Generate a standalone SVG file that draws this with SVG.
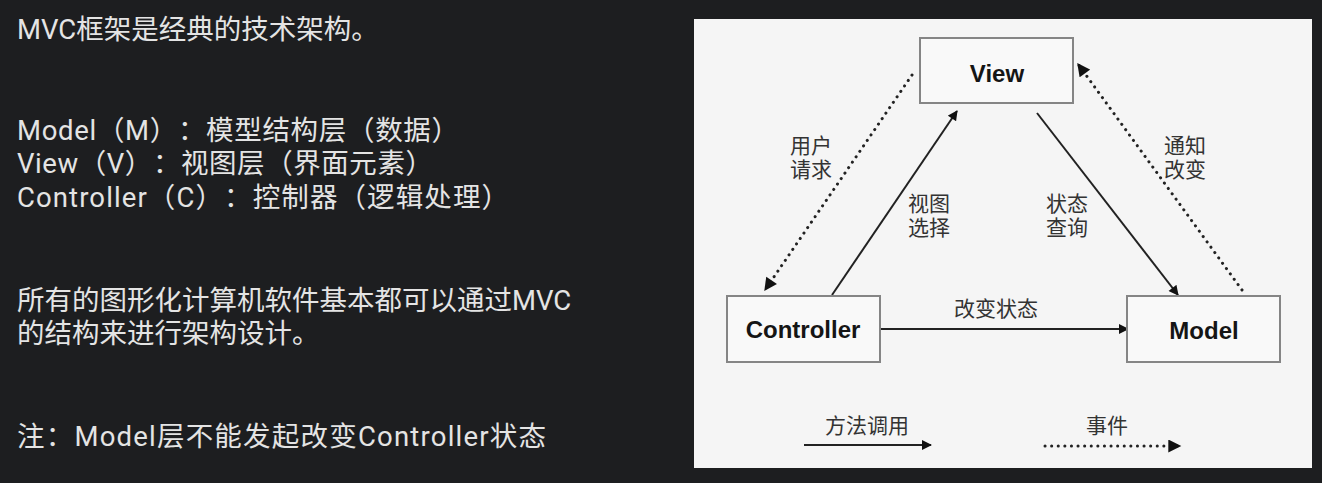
<svg xmlns="http://www.w3.org/2000/svg" width="1322" height="483" viewBox="0 0 1322 483">
  <defs>
    <style>
      .note { font-family: Roboto, "Noto Sans CJK SC", sans-serif; font-size: 27.5px; fill: #e4e4e4; text-spacing-trim: space-all; }
      .box { fill: #f9f9f9; stroke: #858585; stroke-width: 2; }
      .name { font-family: "Liberation Sans", Arial, sans-serif; font-weight: bold; font-size: 24px; fill: #151515; text-anchor: middle; }
      .lbl { font-family: "Liberation Sans", "Noto Sans CJK SC", sans-serif; font-size: 21px; fill: #333; text-anchor: middle; }
      .call { fill: none; stroke: #222; stroke-width: 2; }
      .event { fill: none; stroke: #222; stroke-width: 3; stroke-dasharray: 0.1 6.5; stroke-linecap: round; }
    </style>
    <marker id="head" viewBox="0 0 10 10" refX="9" refY="5" markerWidth="11" markerHeight="10" markerUnits="userSpaceOnUse" orient="auto">
      <path d="M0,0 L10,5 L0,10 z" fill="#111"/>
    </marker>
    <marker id="headDot" viewBox="0 0 10 10" refX="9" refY="5" markerWidth="14" markerHeight="13" markerUnits="userSpaceOnUse" orient="auto">
      <path d="M0,0 L10,5 L0,10 z" fill="#111"/>
    </marker>
  </defs>

  <!-- page background -->
  <rect x="0" y="0" width="1322" height="483" fill="#1d1e20"/>

  <!-- notes column -->
  <g id="notes">
    <text class="note" x="17" y="39">MVC框架是经典的技术架构。</text>
    <text class="note" x="17" y="140" textLength="442" lengthAdjust="spacing">Model（M）：模型结构层（数据）</text>
    <text class="note" x="17" y="173" textLength="416" lengthAdjust="spacing">View（V）：视图层（界面元素）</text>
    <text class="note" x="17" y="207" textLength="492" lengthAdjust="spacing">Controller（C）：控制器（逻辑处理）</text>
    <text class="note" x="17" y="310">所有的图形化计算机软件基本都可以通过MVC</text>
    <text class="note" x="17" y="343">的结构来进行架构设计。</text>
    <text class="note" x="17" y="446" textLength="529" lengthAdjust="spacing">注：Model层不能发起改变Controller状态</text>
  </g>

  <!-- diagram panel -->
  <rect x="694" y="19" width="618" height="449" fill="#f5f5f5"/>

  <g id="connectors">
    <!-- Controller -> View : 视图选择 -->
    <line class="call" x1="832" y1="295" x2="957" y2="111" marker-end="url(#head)"/>
    <!-- View -> Model : 状态查询 -->
    <line class="call" x1="1037" y1="113" x2="1178" y2="295" marker-end="url(#head)"/>
    <!-- Controller -> Model : 改变状态 -->
    <line class="call" x1="881" y1="329" x2="1128" y2="329" marker-end="url(#head)"/>
    <!-- View -> Controller : 用户请求 (event) -->
    <line class="event" x1="912" y1="75" x2="765" y2="290" marker-end="url(#headDot)"/>
    <!-- Model -> View : 通知改变 (event) -->
    <line class="event" x1="1242" y1="290" x2="1078" y2="64" marker-end="url(#headDot)"/>

    <text class="lbl" x="811" y="153">用户</text>
    <text class="lbl" x="811" y="177">请求</text>
    <text class="lbl" x="1185" y="153">通知</text>
    <text class="lbl" x="1185" y="177">改变</text>
    <text class="lbl" x="929" y="211">视图</text>
    <text class="lbl" x="929" y="235">选择</text>
    <text class="lbl" x="1067" y="211">状态</text>
    <text class="lbl" x="1067" y="235">查询</text>
    <text class="lbl" x="996" y="316">改变状态</text>
  </g>

  <g id="view">
    <rect class="box" x="920" y="38" width="153" height="65"/>
    <text class="name" x="997" y="82">View</text>
  </g>
  <g id="controller">
    <rect class="box" x="727" y="296" width="153" height="66"/>
    <text class="name" x="803" y="338">Controller</text>
  </g>
  <g id="model">
    <rect class="box" x="1127" y="296" width="153" height="66"/>
    <text class="name" x="1204" y="339">Model</text>
  </g>

  <g id="legend">
    <text class="lbl" x="867" y="433">方法调用</text>
    <line class="call" x1="804" y1="445" x2="931" y2="445" marker-end="url(#head)"/>
    <text class="lbl" x="1107" y="433">事件</text>
    <line class="event" x1="1045" y1="446" x2="1180" y2="446" marker-end="url(#headDot)"/>
  </g>
</svg>
